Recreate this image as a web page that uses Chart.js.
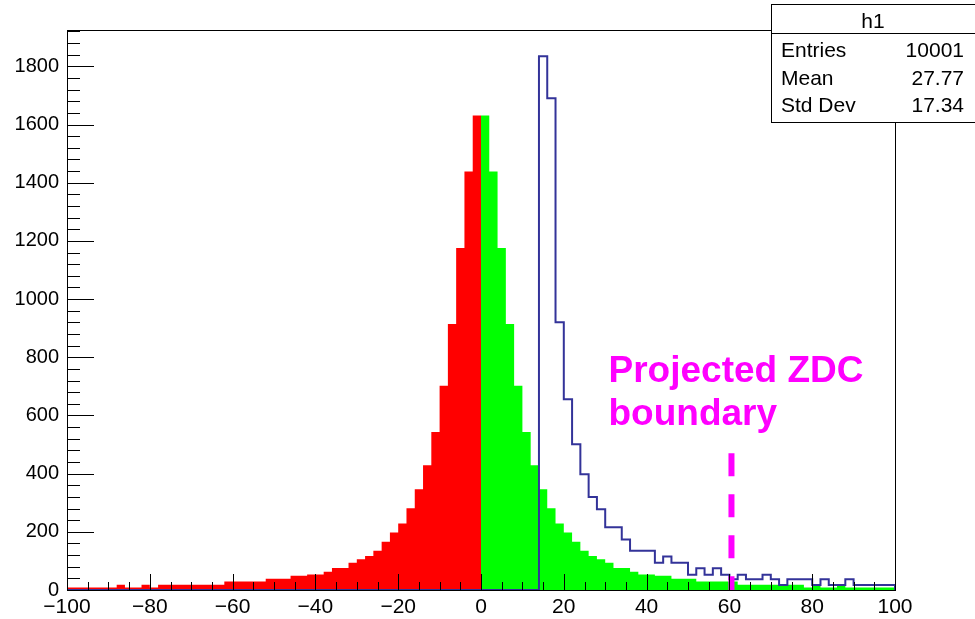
<!DOCTYPE html>
<html>
<head>
<meta charset="utf-8">
<script src="https://cdn.jsdelivr.net/npm/chart.js@4.4.1/dist/chart.umd.min.js"></script>
<style>
  body { margin: 0; background: #fff; }
  canvas { display: block; }
</style>
</head>
<body>
<canvas id="h1" width="975" height="619"></canvas>
<script>
// h1: 2-unit bins, red part -100..0, green part 0..100, blue outline 0..100
const binWidth = 2;
const redStart = -100;
const greenStart = 0;
const blueStart = 0;

const redCounts = [
  9, 9, 9, 9, 9, 9, 18, 9, 9, 18,
  9, 18, 18, 18, 18, 18, 18, 18, 18, 29,
  29, 29, 29, 29, 39, 39, 39, 49, 49, 53,
  53, 63, 76, 76, 94, 106, 117, 135, 166, 198,
  229, 281, 346, 429, 543, 702, 914, 1176, 1439, 1631
];
const greenCounts = [
  1631, 1439, 1176, 914, 702, 543, 429, 346, 281, 229,
  198, 166, 135, 117, 106, 94, 76, 76, 63, 53,
  53, 49, 49, 39, 39, 39, 29, 29, 29, 29,
  29, 18, 18, 18, 18, 18, 18, 18, 18, 9,
  18, 9, 9, 18, 9, 9, 9, 9, 9, 9
];
const blueCounts = [
  0, 0, 0, 0, 0, 0, 0, 1835, 1690, 920,
  656, 501, 398, 320, 278, 216, 216, 174, 135, 135,
  135, 94, 115, 94, 94, 52, 75, 52, 75, 52,
  37, 52, 37, 37, 52, 37, 17, 37, 37, 37,
  17, 37, 17, 17, 37, 17, 17, 17, 17, 17
];

const xTicks = [-100, -80, -60, -40, -20, 0, 20, 40, 60, 80, 100];
const yTicks = [0, 200, 400, 600, 800, 1000, 1200, 1400, 1600, 1800];
const xMinorStep = 5;
const yMinorStep = 40;
const yMax = 1925;

const statsTitle = 'h1';
const statsNames = ['Entries', 'Mean', 'Std Dev'];
const statsValues = ['10001', '27.77', '17.34'];

const zdcBoundary = 60.5;
const zdcTop = 470;
const zdcLabel = ['Projected ZDC', 'boundary'];

const FONT = '"Liberation Sans", Arial, Helvetica, sans-serif';

function stepPoints(start, counts) {
  const pts = counts.map((c, i) => ({ x: start + i * binWidth, y: c }));
  pts.push({ x: start + counts.length * binWidth, y: 0 });
  return pts;
}

const bluePoints = [{ x: redStart, y: 0 }].concat(stepPoints(blueStart, blueCounts));

// ROOT-style frame, inside ticks, stats box and the ZDC note
const rootDecor = {
  id: 'rootDecor',
  afterDraw(chart) {
    const { ctx, chartArea: a, scales: { x, y } } = chart;
    ctx.save();
    ctx.strokeStyle = '#000';
    ctx.lineWidth = 1;
    ctx.strokeRect(a.left + 0.5, a.top + 0.5, a.right - a.left, a.bottom - a.top);

    ctx.beginPath();
    for (let v = x.min; v <= x.max; v += xMinorStep) {
      const px = Math.round(x.getPixelForValue(v)) + 0.5;
      const len = xTicks.includes(v) ? 16 : 8;
      ctx.moveTo(px, a.bottom);
      ctx.lineTo(px, a.bottom - len);
    }
    for (let v = 0; v <= y.max; v += yMinorStep) {
      const py = Math.round(y.getPixelForValue(v)) + 0.5;
      const len = yTicks.includes(v) ? 27 : 13;
      ctx.moveTo(a.left, py);
      ctx.lineTo(a.left + len, py);
    }
    ctx.stroke();

    // stats box
    const bx = 771, by = 4, bw = 210, bh = 118;
    ctx.fillStyle = '#fff';
    ctx.fillRect(bx, by, bw, bh);
    ctx.strokeRect(bx + 0.5, by + 0.5, bw, bh);
    ctx.beginPath();
    ctx.moveTo(bx, by + 29.5);
    ctx.lineTo(bx + bw, by + 29.5);
    ctx.stroke();
    ctx.fillStyle = '#000';
    ctx.font = '21px ' + FONT;
    ctx.textBaseline = 'alphabetic';
    ctx.textAlign = 'center';
    ctx.fillText(statsTitle, 873, 28);
    statsNames.forEach((n, i) => {
      ctx.textAlign = 'left';
      ctx.fillText(n, 781, 57 + i * 27.5);
      ctx.textAlign = 'right';
      ctx.fillText(statsValues[i], 964, 57 + i * 27.5);
    });

    // annotation text
    ctx.fillStyle = '#ff00ff';
    ctx.font = 'bold 37px ' + FONT;
    ctx.textAlign = 'left';
    const tx = x.getPixelForValue(30.8);
    ctx.fillText(zdcLabel[0], tx, y.getPixelForValue(716));
    ctx.fillText(zdcLabel[1], tx, y.getPixelForValue(568));
    ctx.restore();
  }
};

new Chart(document.getElementById('h1'), {
  type: 'line',
  data: {
    datasets: [
      {
        data: [{ x: zdcBoundary, y: zdcTop }, { x: zdcBoundary, y: 0 }],
        borderColor: '#ff00ff', borderWidth: 6, borderDash: [23, 18],
        pointRadius: 0, fill: false, order: 0
      },
      {
        data: bluePoints, stepped: 'before',
        borderColor: '#333399', borderWidth: 2,
        pointRadius: 0, fill: false, order: 1
      },
      {
        data: stepPoints(greenStart, greenCounts), stepped: 'before',
        borderColor: '#00ff00', borderWidth: 0, backgroundColor: '#00ff00',
        pointRadius: 0, fill: 'origin', order: 2
      },
      {
        data: stepPoints(redStart, redCounts), stepped: 'before',
        borderColor: '#ff0000', borderWidth: 0, backgroundColor: '#ff0000',
        pointRadius: 0, fill: 'origin', order: 3
      }
    ]
  },
  options: {
    responsive: false,
    animation: false,
    layout: { padding: { top: 30, right: 80, left: 0, bottom: 0 } },
    plugins: { legend: { display: false }, tooltip: { enabled: false } },
    scales: {
      x: {
        type: 'linear', min: -100, max: 100,
        grid: { display: false, drawTicks: false },
        border: { display: false },
        afterBuildTicks: s => { s.ticks = xTicks.map(v => ({ value: v })); },
        afterFit: s => { s.height = 29; },
        ticks: {
          autoSkip: false, maxRotation: 0, padding: 5, color: '#000',
          font: { family: FONT, size: 21 },
          callback: v => (v < 0 ? '\u2212' + Math.abs(v) : String(v))
        }
      },
      y: {
        type: 'linear', min: 0, max: yMax,
        grid: { display: false, drawTicks: false },
        border: { display: false },
        afterBuildTicks: s => { s.ticks = yTicks.map(v => ({ value: v })); },
        afterFit: s => { s.width = 67; },
        ticks: {
          autoSkip: false, padding: 8, color: '#000',
          font: { family: FONT, size: 20 },
          callback: v => String(v)
        }
      }
    }
  },
  plugins: [rootDecor]
});
</script>
</body>
</html>
